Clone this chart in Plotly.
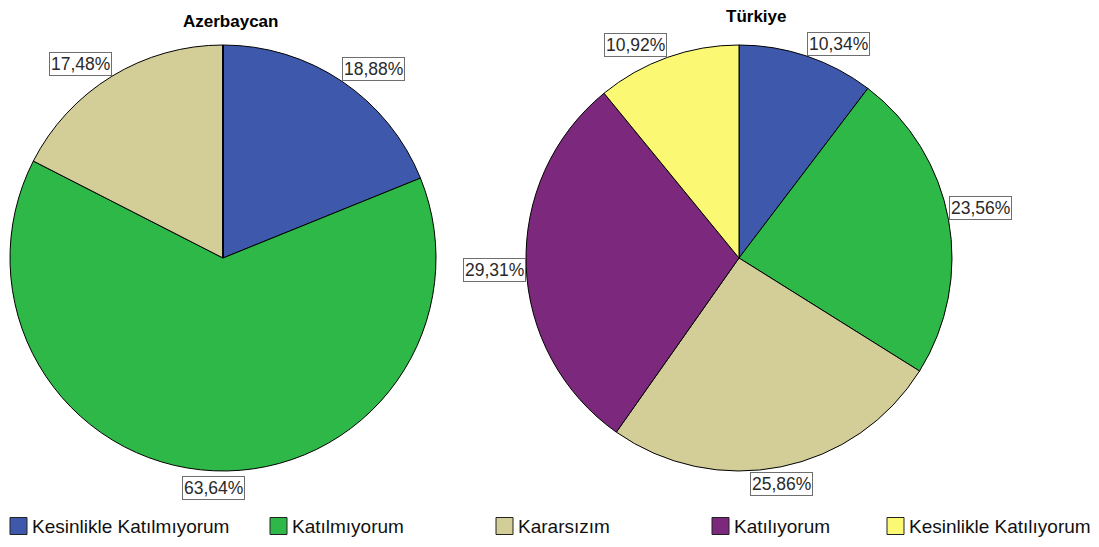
import math
import plotly.graph_objects as go

categories = ["Kesinlikle Katılmıyorum", "Katılmıyorum", "Kararsızım", "Katılıyorum", "Kesinlikle Katılıyorum"]
colors = ["#3E58AC", "#2EB848", "#D3CE97", "#7C287D", "#FBF873"]
titles = ["Azerbaycan", "Türkiye"]
azerbaycan = [18.88, 63.64, 17.48, 0.0, 0.0]
turkiye = [10.34, 23.56, 25.86, 29.31, 10.92]
label_text_az = ["18,88%", "63,64%", "17,48%", "", ""]
label_text_tr = ["10,34%", "23,56%", "25,86%", "29,31%", "10,92%"]

W, H = 1099, 547
FONT = "Liberation Sans, Arial, sans-serif"
# pie geometry in pixels (center x, center y, radius)
pies = [(223, 258, 213), (739, 258, 213)]
title_pos = [(230, 21), (756, 17)]

fig = go.Figure()
annotations = []
for (cx, cy, r), title, (tx, ty), vals, texts in zip(pies, titles, title_pos, [azerbaycan, turkiye], [label_text_az, label_text_tr]):
    fig.add_trace(go.Pie(
        labels=categories, values=vals, sort=False, direction="clockwise", rotation=0,
        marker=dict(colors=colors, line=dict(color="#000000", width=1)),
        textinfo="none", hoverinfo="label+percent", showlegend=False,
        domain=dict(x=[(cx - r) / W, (cx + r) / W], y=[(H - cy - r) / H, (H - cy + r) / H]),
    ))
    total = sum(vals)
    cum = 0.0
    for v, t in zip(vals, texts):
        if v > 0:
            mid = (cum + v / 2) / total * 2 * math.pi
            s, c = math.sin(mid), math.cos(mid)
            px = cx + r * s
            py = cy - r * c
            xa = "left" if s > 0.25 else ("right" if s < -0.25 else "center")
            ya = "bottom" if c > 0.1 else ("top" if c < -0.5 else "middle")
            dy = -4 if ya == "middle" else (-5 if ya == "top" else 0)
            annotations.append(dict(
                x=px / W, y=(H - py) / H, xref="paper", yref="paper", text=t, showarrow=False,
                xanchor=xa, yanchor=ya, yshift=dy, bgcolor="white", bordercolor="#6e6e6e", borderwidth=1,
                borderpad=1, font=dict(family=FONT, size=17.5, color="#2a2a2a"),
            ))
        cum += v
    annotations.append(dict(
        x=tx / W, y=(H - ty) / H, xref="paper", yref="paper", text="<b>%s</b>" % title,
        showarrow=False, xanchor="center", yanchor="middle",
        font=dict(family=FONT, size=17, color="#000000"),
    ))

# manual legend
legend_x = [10, 270, 496, 712, 887]
legend_y = 526
shapes = []
for lx, name, col in zip(legend_x, categories, colors):
    shapes.append(dict(type="rect", xref="paper", yref="paper",
                       x0=lx / W, x1=(lx + 17) / W, y0=(H - legend_y - 8.5) / H, y1=(H - legend_y + 8.5) / H,
                       fillcolor=col, line=dict(color="#222222", width=1)))
    annotations.append(dict(x=(lx + 20) / W, y=(H - legend_y) / H, xref="paper", yref="paper",
                            text=name, showarrow=False, xanchor="left", yanchor="middle",
                            font=dict(family=FONT, size=19, color="#111111")))

fig.update_layout(
    width=W, height=H, margin=dict(l=0, r=0, t=0, b=0),
    paper_bgcolor="white", plot_bgcolor="white",
    annotations=annotations, shapes=shapes, showlegend=False,
)
fig.write_html("out.html", config={"displayModeBar": False},
               post_script="document.body.style.margin='0';document.body.style.overflow='hidden';")
